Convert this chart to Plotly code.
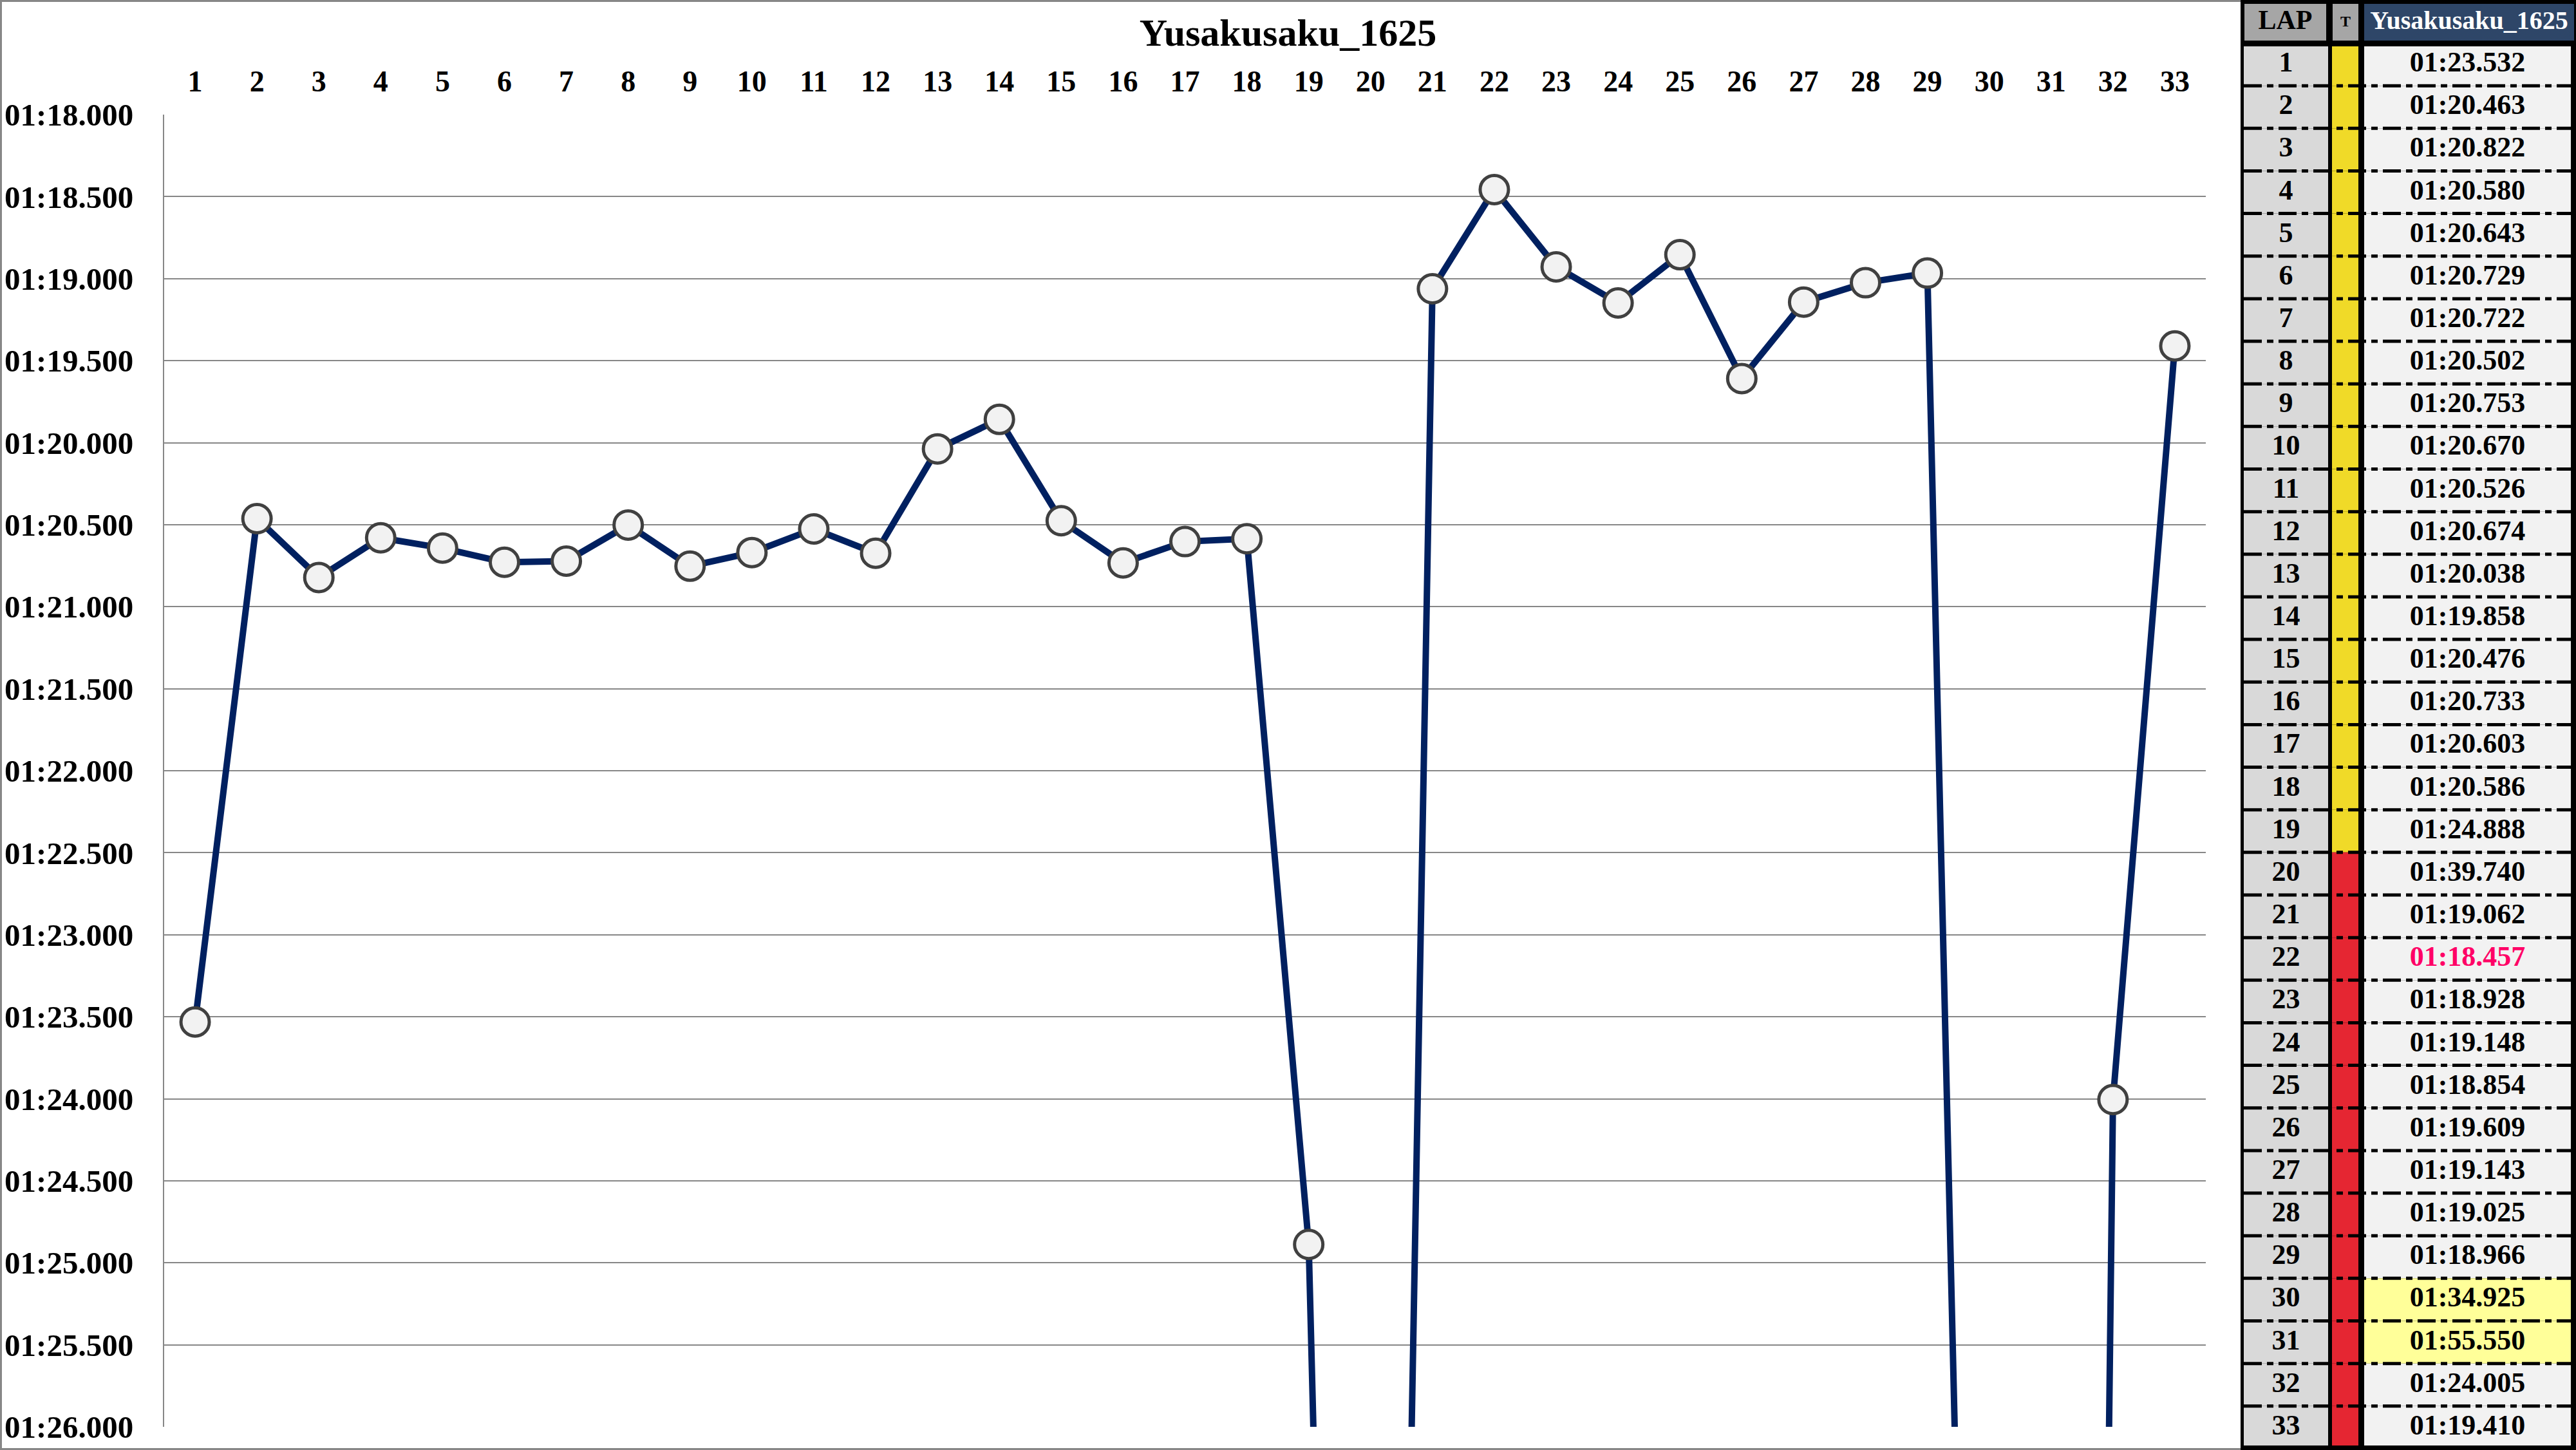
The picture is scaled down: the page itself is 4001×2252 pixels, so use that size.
import plotly.graph_objects as go

W, H = 4001, 2252

# ---------------- data ----------------
driver = "Yusakusaku_1625"
laps = list(range(1, 34))
lap_labels = [str(i) for i in laps]
lap_times = [
    "01:23.532", "01:20.463", "01:20.822", "01:20.580", "01:20.643",
    "01:20.729", "01:20.722", "01:20.502", "01:20.753", "01:20.670",
    "01:20.526", "01:20.674", "01:20.038", "01:19.858", "01:20.476",
    "01:20.733", "01:20.603", "01:20.586", "01:24.888", "01:39.740",
    "01:19.062", "01:18.457", "01:18.928", "01:19.148", "01:18.854",
    "01:19.609", "01:19.143", "01:19.025", "01:18.966", "01:34.925",
    "01:55.550", "01:24.005", "01:19.410",
]
tyre = ["Y", "Y", "Y", "Y", "Y", "Y", "Y", "Y", "Y", "Y",
        "Y", "Y", "Y", "Y", "Y", "Y", "Y", "Y", "Y", "R",
        "R", "R", "R", "R", "R", "R", "R", "R", "R", "R",
        "R", "R", "R"]
highlight_laps = [30, 31]
best_lap = 22
y_tick_vals = [78.0, 78.5, 79.0, 79.5, 80.0, 80.5, 81.0, 81.5, 82.0,
               82.5, 83.0, 83.5, 84.0, 84.5, 85.0, 85.5, 86.0]
y_tick_labels = ["01:18.000", "01:18.500", "01:19.000", "01:19.500",
                 "01:20.000", "01:20.500", "01:21.000", "01:21.500",
                 "01:22.000", "01:22.500", "01:23.000", "01:23.500",
                 "01:24.000", "01:24.500", "01:25.000", "01:25.500",
                 "01:26.000"]


def to_sec(s):
    m, r = s.split(":")
    return int(m) * 60 + float(r)


secs = [to_sec(t) for t in lap_times]

# ---------------- styles ----------------
FONT = "Liberation Serif"
LINE_C = "#002060"
GRID_C = "#878787"
tyre_colors = {"Y": "#f0da28", "R": "#e52632"}

fig = go.Figure()

fig.add_trace(go.Scatter(
    x=laps, y=secs, mode="lines+markers",
    line=dict(color=LINE_C, width=10),
    marker=dict(size=44, color="#f2f2f2", line=dict(color="#404040", width=5)),
    showlegend=False, hoverinfo="skip",
    xaxis="x", yaxis="y",
))

# ---------------- table (in its own axes) ----------------
shapes = []
# chart frame
shapes.append(dict(type="rect", xref="paper", yref="paper",
                   x0=0, x1=3484 / W, y0=0, y1=1,
                   line=dict(color="#878787", width=6), layer="below"))
# table black background
Y_TOP, Y_BOT = -0.513, 33.531
shapes.append(dict(type="rect", xref="x2", yref="y2", x0=0, x1=521,
                   y0=Y_TOP, y1=Y_BOT, fillcolor="black",
                   line=dict(width=0), layer="below"))
# header cells
hy0, hy1 = -0.422, 0.439
for (x0, x1, col) in [(6, 133, "#a6a6a6"), (143, 183, "#a6a6a6"),
                      (192, 518, "#2e4668")]:
    shapes.append(dict(type="rect", xref="x2", yref="y2", x0=x0, x1=x1,
                       y0=hy0, y1=hy1, fillcolor=col,
                       line=dict(width=0), layer="below"))
# data cells
for i, lap in enumerate(laps):
    y0 = lap - 0.5 if i > 0 else 0.575
    y1 = lap + 0.5 if i < len(laps) - 1 else 33.425
    time_fill = "#ffff99" if lap in highlight_laps else "#f2f2f2"
    for (x0, x1, col) in [(5, 136, "#d9d9d9"),
                          (142, 183, tyre_colors[tyre[i]]),
                          (192, 513, time_fill)]:
        shapes.append(dict(type="rect", xref="x2", yref="y2", x0=x0, x1=x1,
                           y0=y0, y1=y1, fillcolor=col,
                           line=dict(width=0), layer="below"))
# dash-dot row separators
for lap in laps[:-1]:
    shapes.append(dict(type="line", xref="x2", yref="y2", x0=5, x1=513,
                       y0=lap + 0.5, y1=lap + 0.5,
                       line=dict(color="black", width=5,
                                 dash="28px,8px,10px,8px"),
                       layer="below"))

time_colors = ["#ff0066" if lap == best_lap else "black" for lap in laps]
fig.add_trace(go.Scatter(
    x=[70.5] * len(laps), y=laps, text=lap_labels, mode="text",
    textfont=dict(family=FONT, size=44, color="black", weight="bold"),
    showlegend=False, hoverinfo="skip", xaxis="x2", yaxis="y2",
))
fig.add_trace(go.Scatter(
    x=[352.5] * len(laps), y=laps, text=lap_times, mode="text",
    textfont=dict(family=FONT, size=44, color=time_colors, weight="bold"),
    showlegend=False, hoverinfo="skip", xaxis="x2", yaxis="y2",
))
fig.add_trace(go.Scatter(
    x=[69.5, 163, 355], y=[0.01, 0.01, 0.01],
    text=["LAP", "T", driver], mode="text",
    textfont=dict(family=FONT, size=[42, 24, 40],
                  color=["black", "black", "white"], weight="bold"),
    showlegend=False, hoverinfo="skip", xaxis="x2", yaxis="y2",
))

fig.update_layout(
    width=W, height=H,
    margin=dict(l=0, r=0, t=0, b=0, autoexpand=False),
    paper_bgcolor="white", plot_bgcolor="rgba(0,0,0,0)",
    title=dict(text=driver, x=0.5, xref="paper", y=1 - 50 / H,
               yanchor="middle", xanchor="center", automargin=False,
               font=dict(family=FONT, size=60, color="black", weight="bold")),
    xaxis=dict(domain=[255 / W, 3426 / W], range=[0.5, 33.5], side="top",
               tickvals=laps, ticktext=lap_labels, showgrid=False,
               zeroline=False, showline=False, ticks="",
               ticklabelstandoff=26, automargin=False,
               tickfont=dict(family=FONT, size=46, color="black",
                             weight="bold"),
               anchor="y", fixedrange=True),
    yaxis=dict(domain=[1 - 2216 / H, 1 - 178 / H], range=[86.0, 78.0],
               tickvals=y_tick_vals, ticktext=y_tick_labels,
               showgrid=True, gridcolor=GRID_C, gridwidth=2,
               showline=True, linecolor=GRID_C, linewidth=2,
               zeroline=False, ticks="", ticklabelstandoff=36,
               automargin=False,
               tickfont=dict(family=FONT, size=49, color="black",
                             weight="bold"),
               anchor="x", fixedrange=True),
    xaxis2=dict(domain=[3480 / W, 1], range=[0, 521], visible=False,
                anchor="y2", fixedrange=True, automargin=False),
    yaxis2=dict(domain=[0, 1], range=[Y_BOT, Y_TOP], visible=False,
                anchor="x2", fixedrange=True, automargin=False),
    shapes=shapes,
)

fig.write_html("out.html",
               config={"displayModeBar": False},
               post_script="document.body.style.margin='0';"
                           "document.body.style.overflow='hidden';")
